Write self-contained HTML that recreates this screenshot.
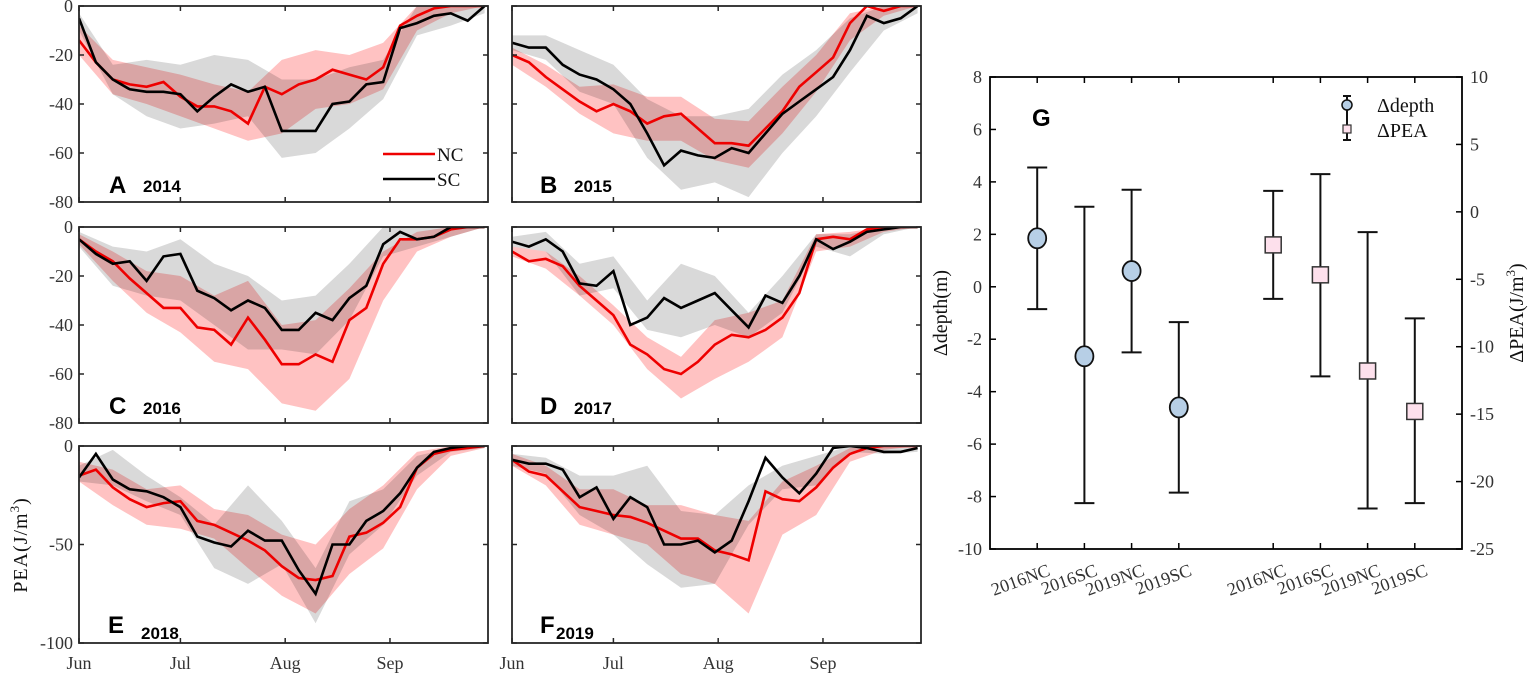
<!DOCTYPE html>
<html><head><meta charset="utf-8"><style>
body{margin:0;background:#fff;}
svg{display:block;font-family:"Liberation Serif",serif;}
.tk{font-size:18px;fill:#333;}
.pl{font-family:"Liberation Sans",sans-serif;font-weight:bold;fill:#000;}
</style></head><body>
<svg id="fig" width="1535" height="674" viewBox="0 0 1535 674">
<g id="panels"></g>
<g id="gchart"></g>
</svg>
<script>
// ---------- time-series data (days since Jun 1) ----------
const meanDays=[0,5,10,15,20,25,30,35,40,45,50,55,60,65,70,75,80,85,90,95,100,105,110,115,120];
const bandDays=[0,10,20,30,40,50,60,70,80,90,100,110,120];
const monthLabels=["Jun","Jul","Aug","Sep"];
const monthDays=[0,30,61,92];
// A 2014
const a_nc=[-14,-23,-30,-32,-33,-31,-37,-41,-41,-43,-48,-33,-36,-32,-30,-26,-28,-30,-25,-8,-4,-1,0,0,0];
const a_sc=[-5,-23,-30,-34,-35,-35,-36,-43,-37,-32,-35,-33,-51,-51,-51,-40,-39,-32,-31,-9,-7,-4,-3,-6,0];
const a_nc_up=[-8,-22,-25,-28,-32,-35,-22,-18,-20,-15,0,0,0];
const a_nc_lo=[-20,-36,-40,-45,-50,-55,-52,-42,-40,-34,-10,-3,0];
const a_sc_up=[-3,-24,-22,-24,-20,-22,-30,-30,-25,-22,0,0,0];
const a_sc_lo=[-10,-36,-45,-50,-48,-45,-62,-60,-50,-38,-12,-8,-3];
// B 2015
const b_nc=[-20,-23,-29,-34,-39,-43,-40,-43,-48,-45,-44,-50,-56,-56,-57,-50,-43,-33,-27,-21,-7,0,-2,0,0];
const b_sc=[-15,-17,-17,-24,-28,-30,-34,-40,-52,-65,-59,-61,-62,-58,-60,-52,-44,-39,-34,-29,-18,-4,-7,-5,0];
const b_nc_up=[-17,-24,-33,-32,-37,-37,-46,-47,-33,-20,-3,0,0];
const b_nc_lo=[-24,-33,-44,-52,-55,-55,-63,-66,-52,-35,-14,-4,0];
const b_sc_up=[-12,-12,-18,-24,-38,-45,-45,-42,-28,-18,-5,0,0];
const b_sc_lo=[-18,-22,-35,-40,-62,-75,-72,-78,-60,-45,-27,-10,-3];
// C 2016
const c_nc=[-5,-10,-14,-21,-27,-33,-33,-41,-42,-48,-37,-46,-56,-56,-52,-55,-38,-33,-15,-5,-5,-4,-1,0,0];
const c_sc=[-5,-11,-15,-14,-22,-12,-11,-26,-29,-34,-30,-33,-42,-42,-35,-38,-29,-24,-7,-2,-5,-4,0,0,0];
const c_nc_up=[-3,-10,-18,-20,-28,-22,-40,-38,-25,-10,-2,0,0];
const c_nc_lo=[-7,-22,-35,-43,-55,-58,-72,-75,-62,-30,-10,-4,0];
const c_sc_up=[-2,-8,-10,-5,-15,-20,-30,-28,-15,0,0,0,0];
const c_sc_lo=[-8,-24,-28,-30,-40,-50,-50,-52,-38,-12,-8,-4,0];
// D 2017
const d_nc=[-10,-14,-13,-16,-24,-30,-36,-48,-52,-58,-60,-55,-48,-44,-45,-42,-37,-27,-5,-4,-5,-1,0,0,0];
const d_sc=[-6,-8,-5,-10,-23,-24,-18,-40,-37,-29,-33,-30,-27,-34,-41,-28,-31,-20,-5,-9,-6,-2,-1,0,0];
const d_nc_up=[-8,-10,-20,-32,-45,-53,-38,-35,-30,-3,-2,0,0];
const d_nc_lo=[-12,-17,-28,-40,-58,-70,-62,-55,-45,-10,-8,-2,0];
const d_sc_up=[-4,-2,-15,-12,-30,-15,-20,-35,-20,-3,-3,0,0];
const d_sc_lo=[-8,-10,-28,-25,-42,-45,-40,-45,-35,-8,-12,-3,0];
// E 2018
const e_nc=[-15,-12,-21,-27,-31,-29,-28,-38,-40,-44,-48,-53,-61,-67,-68,-66,-46,-44,-39,-31,-11,-4,-2,-1,0];
const e_sc=[-16,-4,-17,-22,-23,-26,-31,-46,-49,-51,-43,-48,-48,-63,-75,-50,-50,-38,-33,-24,-11,-3,-1,0,0];
const e_nc_up=[-8,-12,-22,-20,-32,-35,-45,-50,-32,-20,-3,0,0];
const e_nc_lo=[-18,-30,-40,-42,-47,-62,-76,-85,-65,-52,-22,-5,-1];
const e_sc_up=[-10,-2,-15,-26,-40,-20,-38,-62,-28,-22,-5,-1,0];
const e_sc_lo=[-18,-20,-28,-35,-62,-70,-60,-90,-55,-40,-15,-3,-1];
// F 2019
const f_nc=[-7,-13,-15,-23,-31,-33,-35,-36,-39,-43,-47,-47,-53,-55,-58,-23,-27,-28,-21,-11,-4,-1,0,0,0];
const f_sc=[-7,-9,-9,-12,-26,-21,-37,-26,-31,-50,-50,-48,-54,-48,-28,-6,-16,-24,-14,-1,0,-1,-3,-3,-1];
const f_nc_up=[-4,-10,-22,-22,-30,-30,-35,-38,-18,-10,-1,0,0];
const f_nc_lo=[-10,-20,-40,-45,-50,-65,-70,-85,-45,-35,-8,-2,0];
const f_sc_up=[-4,-6,-15,-15,-10,-33,-35,-20,-10,-5,0,0,0];
const f_sc_lo=[-10,-14,-35,-45,-60,-72,-70,-40,-22,-20,-3,-4,-3];

// ---------- panel G data ----------
const gCats=["2016NC","2016SC","2019NC","2019SC","2016NC","2016SC","2019NC","2019SC"];
const gPos=[1,2,3,4,6,7,8,9];
const depthMean=[1.85,-2.65,0.6,-4.6];
const depthLo=[-0.85,-8.25,-2.5,-7.85];
const depthHi=[4.55,3.05,3.7,-1.35];
const peaMean=[-2.45,-4.67,-11.8,-14.8];
const peaLo=[-6.45,-12.2,-22.0,-21.6];
const peaHi=[1.56,2.8,-1.5,-7.9];
const leftTicks=[8,6,4,2,0,-2,-4,-6,-8,-10];
const rightTicks=[10,5,0,-5,-10,-15,-20,-25];

const NS="http://www.w3.org/2000/svg";
function mk(parent,tag,attrs){const e=document.createElementNS(NS,tag);for(const k in attrs)e.setAttribute(k,attrs[k]);parent.appendChild(e);return e;}

const panels=[
 {id:"a",L:"A",yr:"2014",x0:79,x1:488,y0:6,y1:202,ymin:-80,ticks:[0,-20,-40,-60,-80],lab:true,xl:false,nc:a_nc,sc:a_sc,ncu:a_nc_up,ncl:a_nc_lo,scu:a_sc_up,scl:a_sc_lo,lx:109,ly:193,yx:143,yy:192},
 {id:"b",L:"B",yr:"2015",x0:512,x1:921,y0:6,y1:202,ymin:-80,ticks:[0,-20,-40,-60,-80],lab:false,xl:false,nc:b_nc,sc:b_sc,ncu:b_nc_up,ncl:b_nc_lo,scu:b_sc_up,scl:b_sc_lo,lx:540,ly:193,yx:574,yy:192},
 {id:"c",L:"C",yr:"2016",x0:79,x1:488,y0:227,y1:423,ymin:-80,ticks:[0,-20,-40,-60,-80],lab:true,xl:false,nc:c_nc,sc:c_sc,ncu:c_nc_up,ncl:c_nc_lo,scu:c_sc_up,scl:c_sc_lo,lx:109,ly:414,yx:143,yy:414},
 {id:"d",L:"D",yr:"2017",x0:512,x1:921,y0:227,y1:423,ymin:-80,ticks:[0,-20,-40,-60,-80],lab:false,xl:false,nc:d_nc,sc:d_sc,ncu:d_nc_up,ncl:d_nc_lo,scu:d_sc_up,scl:d_sc_lo,lx:540,ly:414,yx:574,yy:414},
 {id:"e",L:"E",yr:"2018",x0:79,x1:488,y0:446,y1:643,ymin:-100,ticks:[0,-50,-100],lab:true,xl:true,nc:e_nc,sc:e_sc,ncu:e_nc_up,ncl:e_nc_lo,scu:e_sc_up,scl:e_sc_lo,lx:108,ly:633,yx:141,yy:639},
 {id:"f",L:"F",yr:"2019",x0:512,x1:921,y0:446,y1:643,ymin:-100,ticks:[0,-50,-100],lab:false,xl:true,nc:f_nc,sc:f_sc,ncu:f_nc_up,ncl:f_nc_lo,scu:f_sc_up,scl:f_sc_lo,lx:540,ly:633,yx:556,yy:639}
];
const root=document.getElementById("panels");
panels.forEach(p=>{
  const g=mk(root,"g",{});
  
  
  const xs=d=>p.x0+(d/121)*(p.x1-p.x0);
  const ys=v=>p.y0+(v/p.ymin)*(p.y1-p.y0);
  const clip="clip"+p.id;
  const cp=mk(g,"clipPath",{id:clip});mk(cp,"rect",{x:p.x0,y:p.y0,width:p.x1-p.x0,height:p.y1-p.y0});
  const band=(up,lo)=>{let s="";bandDays.forEach((d,i)=>{s+=(i?"L":"M")+xs(d).toFixed(1)+","+ys(up[i]).toFixed(1);});for(let i=bandDays.length-1;i>=0;i--)s+="L"+xs(bandDays[i]).toFixed(1)+","+ys(lo[i]).toFixed(1);return s+"Z";};
  const line=arr=>arr.map((v,i)=>(i?"L":"M")+xs(meanDays[i]).toFixed(1)+","+ys(v).toFixed(1)).join("");
  const gb=mk(g,"path",{d:band(p.scu,p.scl),fill:"#d9d9d9","clip-path":`url(#${clip})`});
  
  
  const rb=mk(g,"path",{d:band(p.ncu,p.ncl),fill:"#ffc2c2",style:"mix-blend-mode:multiply","clip-path":`url(#${clip})`});
  
  
  const rl=mk(g,"path",{d:line(p.nc),fill:"none",stroke:"#ee0000","stroke-width":2.6,"clip-path":`url(#${clip})`});
  
  
  const bl=mk(g,"path",{d:line(p.sc),fill:"none",stroke:"#000","stroke-width":2.6,"clip-path":`url(#${clip})`});
  
  
  const box=mk(g,"rect",{x:p.x0,y:p.y0,width:p.x1-p.x0,height:p.y1-p.y0,fill:"none",stroke:"#262626","stroke-width":1.8});
  
  
  p.ticks.forEach(t=>{
    const y=ys(t);
    mk(g,"line",{x1:p.x0,x2:p.x0+5,y1:y,y2:y,stroke:"#262626","stroke-width":1.5});
    mk(g,"line",{x1:p.x1,x2:p.x1-5,y1:y,y2:y,stroke:"#262626","stroke-width":1.5});
    if(p.lab){const tx=mk(g,"text",{x:p.x0-6,y:y+6,"text-anchor":"end",class:"tk"});tx.textContent=t;
      
      }
  });
  monthDays.forEach((d,i)=>{
    const x=xs(d);
    mk(g,"line",{x1:x,x2:x,y1:p.y1,y2:p.y1-5,stroke:"#262626","stroke-width":1.5});
    mk(g,"line",{x1:x,x2:x,y1:p.y0,y2:p.y0+5,stroke:"#262626","stroke-width":1.5});
    if(p.xl){const tx=mk(g,"text",{x:x,y:669,"text-anchor":"middle",class:"tk"});tx.textContent=monthLabels[i];
      
      }
  });
  const L=mk(g,"text",{x:p.lx,y:p.ly,class:"pl","font-size":24});L.textContent=p.L;
  
  
  const Y=mk(g,"text",{x:p.yx,y:p.yy,class:"pl","font-size":17});Y.textContent=p.yr;
  
  
});
// legend in panel A
(function(){
  const g=mk(root,"g",{});
  
  
  mk(g,"line",{x1:383,x2:435,y1:154,y2:154,stroke:"#ee0000","stroke-width":2.6});
  mk(g,"line",{x1:383,x2:435,y1:179,y2:179,stroke:"#000","stroke-width":2.6});
  const t1=mk(g,"text",{x:437,y:161,"font-size":19,fill:"#111"});t1.textContent="NC";
  
  
  const t2=mk(g,"text",{x:437,y:186,"font-size":19,fill:"#111"});t2.textContent="SC";
  
  
  const yl=mk(root,"text",{x:0,y:0,"font-size":20,fill:"#111","text-anchor":"middle","letter-spacing":"1",transform:"translate(27,545) rotate(-90)"});
  yl.innerHTML='PEA(J/m<tspan dy="-8" font-size="13">3</tspan><tspan dy="8">)</tspan>';
  
  
})();

// ---------- panel G ----------
(function(){
  const g=document.getElementById("gchart");
  const X0=990,X1=1462,Y0=77,Y1=549;
  const xs=c=>X0+c/10*(X1-X0);
  const yl=v=>Y0+(8-v)/18*(Y1-Y0);
  const yr=v=>Y0+(10-v)/35*(Y1-Y0);
  const box=mk(g,"rect",{x:X0,y:Y0,width:X1-X0,height:Y1-Y0,fill:"none",stroke:"#000","stroke-width":1.8});
  
  
  leftTicks.forEach(t=>{const y=yl(t);mk(g,"line",{x1:X0,x2:X0+6,y1:y,y2:y,stroke:"#000","stroke-width":1.5});
    const tx=mk(g,"text",{x:X0-8,y:y+6,"text-anchor":"end",class:"tk"});tx.textContent=t;
    
    });
  rightTicks.forEach(t=>{const y=yr(t);mk(g,"line",{x1:X1,x2:X1-6,y1:y,y2:y,stroke:"#000","stroke-width":1.5});
    const tx=mk(g,"text",{x:X1+8,y:y+6,"text-anchor":"start",class:"tk"});tx.textContent=t;
    
    });
  gPos.forEach((c,i)=>{const x=xs(c);
    mk(g,"line",{x1:x,x2:x,y1:Y1,y2:Y1-6,stroke:"#000","stroke-width":1.5});
    mk(g,"line",{x1:x,x2:x,y1:Y0,y2:Y0+6,stroke:"#000","stroke-width":1.5});
    const tx=mk(g,"text",{x:0,y:0,"text-anchor":"end",class:"tk","font-size":"19",transform:`translate(${x+14},${575}) rotate(-20)`});tx.textContent=gCats[i];
    
    });
  const eb=(x,y1,y2,gg)=>{mk(gg,"line",{x1:x,x2:x,y1:y1,y2:y2,stroke:"#111","stroke-width":2});
    mk(gg,"line",{x1:x-10,x2:x+10,y1:y1,y2:y1,stroke:"#111","stroke-width":2});
    mk(gg,"line",{x1:x-10,x2:x+10,y1:y2,y2:y2,stroke:"#111","stroke-width":2});};
  depthMean.forEach((m,i)=>{const gg=mk(g,"g",{});
    
    
    const x=xs(gPos[i]);eb(x,yl(depthHi[i]),yl(depthLo[i]),gg);
    mk(gg,"ellipse",{cx:x,cy:yl(m),rx:9,ry:10,fill:"#b7cfe6",stroke:"#111","stroke-width":1.8});});
  peaMean.forEach((m,i)=>{const gg=mk(g,"g",{});
    
    
    const x=xs(gPos[i+4]);eb(x,yr(peaHi[i]),yr(peaLo[i]),gg);
    mk(gg,"rect",{x:x-8,y:yr(m)-8,width:16,height:16,fill:"#fde0ec",stroke:"#333","stroke-width":1.5});});
  const G=mk(g,"text",{x:1032,y:126,class:"pl","font-size":24});G.textContent="G";
  
  
  // legend
  const lg=mk(g,"g",{});
  
  
  mk(lg,"line",{x1:1347,x2:1347,y1:96,y2:140,stroke:"#111","stroke-width":2});
  mk(lg,"line",{x1:1343,x2:1351,y1:96,y2:96,stroke:"#111","stroke-width":2});
  mk(lg,"line",{x1:1343,x2:1351,y1:140,y2:140,stroke:"#111","stroke-width":2});
  mk(lg,"circle",{cx:1347,cy:105,r:5,fill:"#b7cfe6",stroke:"#111","stroke-width":1.5});
  mk(lg,"rect",{x:1343,y:125,width:8,height:8,fill:"#fde0ec",stroke:"#333","stroke-width":1.2});
  const l1=mk(lg,"text",{x:1377,y:112,"font-size":20,fill:"#111"});l1.textContent="Δdepth";
  
  
  const l2=mk(lg,"text",{x:1377,y:137,"font-size":20,fill:"#111"});l2.textContent="ΔPEA";
  
  
  const at=mk(g,"text",{x:0,y:0,"font-size":20,fill:"#111","text-anchor":"middle",transform:"translate(947,313) rotate(-90)"});at.textContent="Δdepth(m)";
  
  
  const rt=mk(g,"text",{x:0,y:0,"font-size":20,fill:"#111","text-anchor":"middle",transform:"translate(1523,313) rotate(-90)"});
  rt.innerHTML='ΔPEA(J/m<tspan dy="-8" font-size="13">3</tspan><tspan dy="8">)</tspan>';
  
  
})();
</script>
</body></html>
